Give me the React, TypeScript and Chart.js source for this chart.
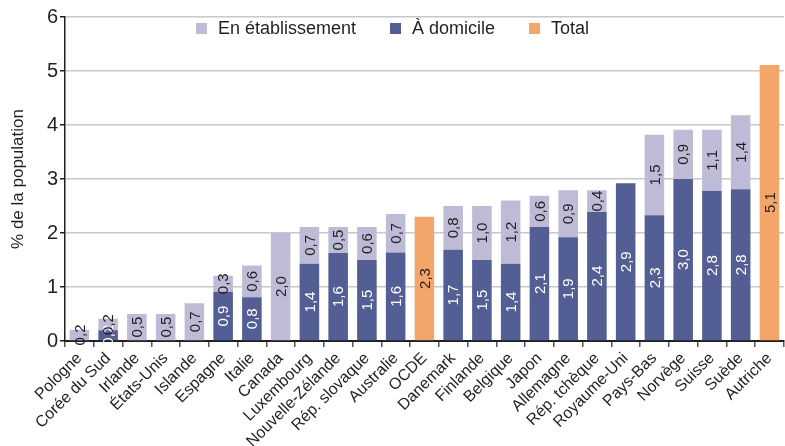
import React, { useEffect, useRef } from "react";
import { Chart, registerables } from "chart.js";

Chart.register(...registerables);

const categories = [
  "Pologne", "Corée du Sud", "Irlande", "États-Unis", "Islande", "Espagne", "Italie", "Canada",
  "Luxembourg", "Nouvelle-Zélande", "Rép. slovaque", "Australie", "OCDE", "Danemark", "Finlande",
  "Belgique", "Japon", "Allemagne", "Rép. tchèque", "Royaume-Uni", "Pays-Bas", "Norvège", "Suisse",
  "Suède", "Autriche",
];

const aDomicile = [
  null, 0.2, null, null, null, 0.91, 0.81, null, 1.43, 1.63, 1.5, 1.64, null, 1.69, 1.5,
  1.43, 2.11, 1.92, 2.39, 2.92, 2.33, 3.0, 2.78, 2.81, null,
];

const enEtablissement = [
  0.21, 0.21, 0.5, 0.5, 0.7, 0.3, 0.59, 2.0, 0.68, 0.48, 0.61, 0.71, null, 0.81, 1.0,
  1.17, 0.58, 0.87, 0.4, null, 1.49, 0.91, 1.13, 1.37, null,
];

const total = [
  null, null, null, null, null, null, null, null, null, null, null, null, 2.3, null, null,
  null, null, null, null, null, null, null, null, null, 5.11,
];

const yTicks = [0, 1, 2, 3, 4, 5, 6];

const FONT = "'Liberation Sans', Arial, sans-serif";
const C_DARK = "#535E94";
const C_LIGHT = "#BDBBD6";
const C_ORANGE = "#F4A56A";
const TEXT = "#231F20";

const fmt = (v: number) => v.toFixed(1).replace(".", ",");

const valueLabels = {
  id: "valueLabels",
  afterDatasetsDraw(chart: any) {
    const ctx = chart.ctx;
    chart.data.datasets.forEach((ds: any, i: number) => {
      const meta = chart.getDatasetMeta(i);
      meta.data.forEach((bar: any, j: number) => {
        const v = ds.data[j];
        if (v === null || v === undefined) return;
        const { x, y, base } = bar.getProps(["x", "y", "base"], true);
        ctx.save();
        ctx.translate(x, (y + base) / 2);
        ctx.rotate(-Math.PI / 2);
        ctx.font = `15px ${FONT}`;
        ctx.textAlign = "center";
        ctx.textBaseline = "middle";
        ctx.fillStyle = ds.labelColor;
        ctx.fillText(fmt(v), 0, 1);
        ctx.restore();
      });
    });
  },
};

const topLegend = {
  id: "topLegend",
  afterDraw(chart: any) {
    const ctx = chart.ctx;
    const order = [1, 0, 2];
    const box = 11;
    const gapBoxText = 11;
    const gapItems = 34;
    ctx.save();
    ctx.font = `18px ${FONT}`;
    const items = order.map((i) => {
      const ds = chart.data.datasets[i];
      return { label: ds.label, color: ds.backgroundColor, w: ctx.measureText(ds.label).width };
    });
    const totalW = items.reduce((s, it) => s + box + gapBoxText + it.w, 0) + gapItems * (items.length - 1);
    let x = chart.width / 2 - totalW / 2;
    const cy = 28.5;
    items.forEach((it) => {
      ctx.fillStyle = it.color;
      ctx.fillRect(x, cy - box / 2, box, box);
      x += box + gapBoxText;
      ctx.fillStyle = TEXT;
      ctx.textAlign = "left";
      ctx.textBaseline = "middle";
      ctx.fillText(it.label, x, cy + 1);
      x += it.w + gapItems;
    });
    ctx.restore();
  },
};

export default function App() {
  const ref = useRef<HTMLCanvasElement>(null);
  useEffect(() => {
    document.body.style.margin = "0";
    const chart = new Chart(ref.current!, {
      type: "bar",
      data: {
        labels: categories,
        datasets: [
          { label: "À domicile", data: aDomicile, backgroundColor: C_DARK, labelColor: "#FFFFFF", categoryPercentage: 0.8, barPercentage: 0.85 } as any,
          { label: "En établissement", data: enEtablissement, backgroundColor: C_LIGHT, labelColor: TEXT, categoryPercentage: 0.8, barPercentage: 0.85 } as any,
          { label: "Total", data: total, backgroundColor: C_ORANGE, labelColor: TEXT, categoryPercentage: 0.8, barPercentage: 0.85 } as any,
        ],
      },
      options: {
        animation: false,
        responsive: false,
        maintainAspectRatio: false,
        layout: { padding: { top: 17, right: 0, left: 0, bottom: 0 } },
        plugins: { legend: { display: false }, tooltip: { enabled: false } },
        scales: {
          x: {
            stacked: true,
            afterFit: (s: any) => { s.height = 105; },
            grid: { display: true, drawOnChartArea: false, offset: true, tickLength: 6, color: "#555", lineWidth: 1.5 },
            border: { display: true, color: "#231F20", width: 2 },
            ticks: { autoSkip: false, maxRotation: 45, minRotation: 45, color: TEXT, font: { family: FONT, size: 16 }, padding: 2 },
          },
          y: {
            stacked: true,
            min: yTicks[0],
            max: yTicks[yTicks.length - 1],
            afterFit: (s: any) => { s.width = 65; },
            afterBuildTicks: (s: any) => { s.ticks = yTicks.map((v) => ({ value: v })); },
            grid: { color: (c: any) => (c.tick && c.tick.value === 0 ? "rgba(0,0,0,0)" : "#C8C8C8"), lineWidth: 1.5, tickLength: 5, tickColor: "#231F20" },
            border: { display: true, color: "#231F20", width: 1.5 },
            ticks: { color: TEXT, font: { family: FONT, size: 20 }, padding: 2 },
            title: { display: true, text: "% de la population", color: TEXT, font: { family: FONT, size: 17 }, padding: { top: 8, bottom: 10 } },
          },
        },
      },
      plugins: [valueLabels, topLegend],
    });
    return () => chart.destroy();
  }, []);
  return (
    <div style={{ width: 785, height: 446 }}>
      <canvas ref={ref} width={785} height={446} style={{ width: 785, height: 446 }} />
    </div>
  );
}
